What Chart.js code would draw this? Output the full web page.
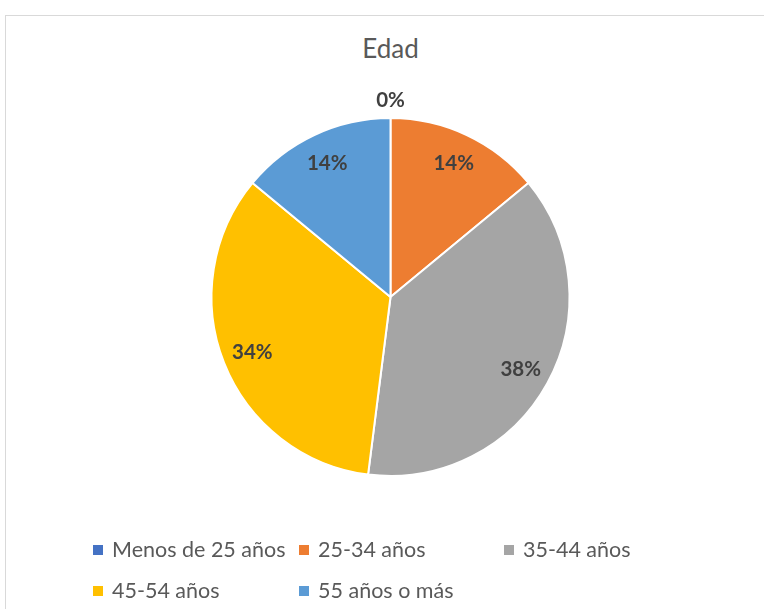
<!DOCTYPE html>
<html>
<head>
<meta charset="utf-8">
<script src="https://cdn.jsdelivr.net/npm/chart.js@4"></script>
<style>
  body { margin: 0; background: #fff; font-family: Lato, "Open Sans", sans-serif; }
  #wrap { position: relative; width: 764px; height: 609px; overflow: hidden; }
  #frame { position: absolute; left: 5px; top: 15px; width: 800px; height: 700px; border: 1px solid #d9d9d9; box-sizing: border-box; }
  #title { position: absolute; left: 0; width: 781px; top: 32px; text-align: center; font-size: 26px; line-height: 32px; color: #595959; }
  #chart { position: absolute; left: 0; top: 0; }
  .leg { position: absolute; font-size: 21.5px; color: #595959; white-space: nowrap; line-height: 26px; }
  .leg i { display: inline-block; width: 10px; height: 10px; margin-right: 9px; vertical-align: 2px; }
</style>
</head>
<body>
<div id="wrap">
  <div id="frame"></div>
  <div id="title">Edad</div>
  <canvas id="chart" width="764" height="609"></canvas>
  <div id="legend"></div>
</div>
<script>
const labels = ["Menos de 25 años", "25-34 años", "35-44 años", "45-54 años", "55 años o más"];
const values = [0, 14, 38, 34, 14];
const colors = ["#4472C4", "#ED7D31", "#A5A5A5", "#FFC000", "#5B9BD5"];

// percentage labels inside the slices (outside for empty ones)
const pctLabels = {
  id: "pctLabels",
  afterDatasetsDraw(chart) {
    const ctx = chart.ctx;
    const meta = chart.getDatasetMeta(0);
    const total = values.reduce((a, b) => a + b, 0);
    ctx.save();
    ctx.font = "bold 20.5px Lato, 'Open Sans', sans-serif";
    ctx.fillStyle = "#404040";
    ctx.textAlign = "center";
    ctx.textBaseline = "middle";
    meta.data.forEach((arc, i) => {
      const p = arc.getProps(["x", "y", "startAngle", "endAngle", "outerRadius"], true);
      const mid = (p.startAngle + p.endAngle) / 2;
      const r = values[i] === 0 ? p.outerRadius + 19 : p.outerRadius * 0.83;
      const txt = Math.round(values[i] / total * 100) + "%";
      ctx.fillText(txt, p.x + Math.cos(mid) * r, p.y + Math.sin(mid) * r + 1);
    });
    ctx.restore();
  }
};

new Chart(document.getElementById("chart"), {
  type: "pie",
  data: {
    labels: labels,
    datasets: [{
      data: values,
      backgroundColor: colors,
      borderColor: "#ffffff",
      borderWidth: 2
    }]
  },
  options: {
    responsive: false,
    animation: false,
    layout: { padding: { top: 117, bottom: 132, left: 210, right: 193 } },
    plugins: {
      legend: { display: false },
      tooltip: { enabled: false }
    },
    events: []
  },
  plugins: [pctLabels]
});

// legend laid out in columns like the original
const legend = document.getElementById("legend");
const colX = [93, 299, 504];
const rowY = [536, 577];
labels.forEach((name, i) => {
  const el = document.createElement("div");
  el.className = "leg";
  el.style.left = colX[i % 3] + "px";
  el.style.top = rowY[Math.floor(i / 3)] + "px";
  el.innerHTML = '<i style="background:' + colors[i] + '"></i>' + name;
  legend.appendChild(el);
});
</script>
</body>
</html>
